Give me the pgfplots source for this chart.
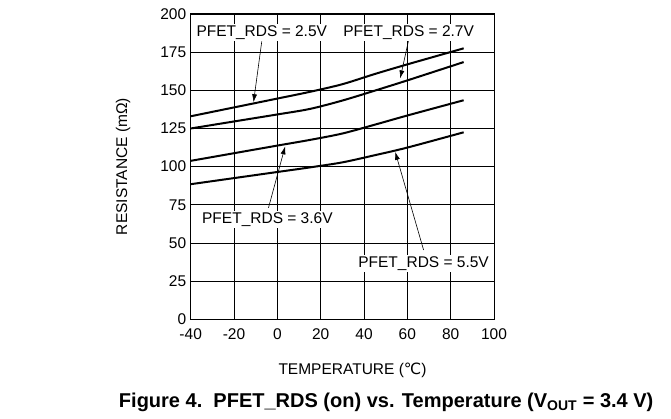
\documentclass[border=0pt]{standalone}
\usepackage{fontspec}
\setmainfont{Liberation Sans}
\newfontfamily\dejavu{DejaVu Sans}
\usepackage{pgfplots}
\pgfplotsset{compat=1.18}
\usetikzlibrary{arrows.meta}
\begin{document}
\begin{tikzpicture}[x=1pt,y=1pt]
\useasboundingbox (-190.7,-99.7) rectangle (480.3,319.3);
\begin{axis}[
  at={(0,0)}, anchor=south west,
  scale only axis, width=303.3pt, height=305.3pt,
  xmin=-40, xmax=100, ymin=0, ymax=200,
  xtick={-40,-20,...,100}, ytick={0,25,...,200},
  grid=major, major grid style={black, line width=0.8pt},
  axis line style={black, line width=1pt},
  tick style={draw=none},
  /pgf/number format/assume math mode=true,
  ticklabel style={font=\fontsize{15.5}{17}\selectfont},
  xticklabel style={yshift=-6pt},
  yticklabel style={xshift=-1pt},
  xlabel={TEMPERATURE ({\dejavu ℃})},
  ylabel={RESISTANCE (mΩ)},
  label style={font=\fontsize{15.5}{17}\selectfont},
  xlabel style={at={(axis description cs:0.5335,-0.166)}, anchor=center},
  ylabel style={at={(axis description cs:-0.223,0.5)}, anchor=center},
  clip=false,
]
\addplot[black, line width=2pt, smooth] coordinates {(-40,133) (-20,138.8) (0,144.6) (15,149) (30,154) (45,160.7) (60,167) (86,177.5)};
\addplot[black, line width=2pt, smooth] coordinates {(-40,125) (-20,129.6) (0,134.2) (15,137.8) (30,143.3) (45,149.8) (60,156.5) (86,168.5)};
\addplot[black, line width=2pt, smooth] coordinates {(-40,103.8) (-20,108.8) (0,113.8) (15,117.5) (30,121.7) (45,127.5) (60,133.5) (86,143.5)};
\addplot[black, line width=2pt, smooth] coordinates {(-40,88.5) (-20,92.5) (0,96.5) (15,99.5) (30,102.8) (45,107.5) (60,112.5) (86,122.5)};

\draw[-{Latex[length=8pt,width=5pt]}, line width=0.6pt] (axis cs:-7.2,182) -- (axis cs:-11,142.2);
\draw[-{Latex[length=8pt,width=5pt]}, line width=0.6pt] (axis cs:60.6,183) -- (axis cs:56.7,157.8);
\draw[-{Latex[length=8pt,width=5pt]}, line width=0.6pt] (axis cs:-4.1,73) -- (axis cs:3.6,113.3);
\draw[-{Latex[length=8pt,width=5pt]}, line width=0.6pt] (axis cs:67.5,45.4) -- (axis cs:54.4,109.7);

\node[fill=white, inner sep=1.5pt, font=\fontsize{15.5}{17}\selectfont] at (axis cs:-7.2,187.7) {PFET\_RDS = 2.5V};
\node[fill=white, inner sep=1.5pt, font=\fontsize{15.5}{17}\selectfont] at (axis cs:60.6,187.7) {PFET\_RDS = 2.7V};
\node[fill=white, inner sep=1.5pt, font=\fontsize{15.5}{17}\selectfont] at (axis cs:-4.6,65.6) {PFET\_RDS = 3.6V};
\node[fill=white, inner sep=1.5pt, font=\fontsize{15.5}{17}\selectfont] at (axis cs:67.5,36.7) {PFET\_RDS = 5.5V};
\end{axis}
\node[font=\bfseries\fontsize{20}{24}\selectfont] at (195.5,-82.7) {Figure 4.\ \ PFET\_RDS (on) vs. Temperature (V\textsubscript{OUT} = 3.4 V)};
\end{tikzpicture}
\end{document}
